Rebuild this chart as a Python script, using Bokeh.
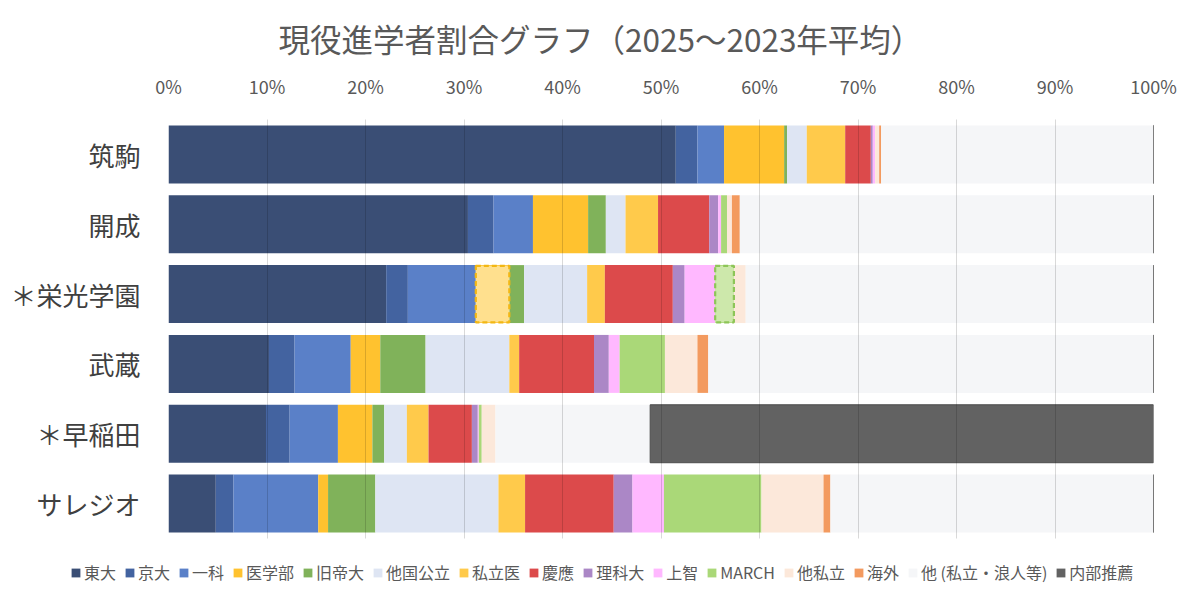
from bokeh.plotting import figure
from bokeh.models import (ColumnDataSource, FactorRange, Range1d, FixedTicker,
                          PrintfTickFormatter, Legend, LegendItem)
from bokeh.embed import file_html
from bokeh.resources import INLINE

FONT = "Noto Sans CJK JP"

# ---------------- data ----------------
schools = ["筑駒", "開成", "＊栄光学園", "武蔵", "＊早稲田", "サレジオ"]

series = ["東大", "京大", "一科", "医学部", "旧帝大", "他国公立", "私立医", "慶應",
          "理科大", "上智", "MARCH", "他私立", "海外", "他 (私立・浪人等)", "内部推薦"]

todai      = [51.5, 30.4, 22.1, 10.2, 9.9, 4.8]
kyodai     = [2.2, 2.6, 2.2, 2.6, 2.4, 1.8]
ikka       = [2.7, 4.0, 6.9, 5.7, 4.9, 8.6]
igakubu    = [6.1, 5.6, 3.4, 3.0, 3.5, 1.0]
kyuteidai  = [0.3, 1.8, 1.5, 4.6, 1.2, 4.8]
takokkou   = [2.0, 2.0, 6.4, 8.5, 2.3, 12.5]
shiritsui  = [3.9, 3.3, 1.8, 1.0, 2.2, 2.7]
keio       = [2.6, 5.2, 6.9, 7.6, 4.4, 9.0]
rikadai    = [0.2, 0.9, 1.2, 1.5, 0.6, 1.9]
sophia     = [0.25, 0.3, 3.1, 1.1, 0.1, 3.2]
march      = [0.0, 0.6, 1.9, 4.6, 0.3, 9.9]
tashiritsu = [0.4, 0.5, 1.2, 3.3, 1.4, 6.3]
kaigai     = [0.2, 0.8, 0.0, 1.1, 0.0, 0.7]
sonota     = [27.7, 42.0, 41.4, 45.2, 15.7, 32.8]
naibu      = [0.0, 0.0, 0.0, 0.0, 51.1, 0.0]

values = [todai, kyodai, ikka, igakubu, kyuteidai, takokkou, shiritsui, keio,
          rikadai, sophia, march, tashiritsu, kaigai, sonota, naibu]

# estimated (dashed) segments: (school, series)
estimated = [("＊栄光学園", "医学部"), ("＊栄光学園", "MARCH")]

x_ticks = list(range(0, 101, 10))

title_text = "現役進学者割合グラフ（2025～2023年平均）"

# ---------------- styles ----------------
colors = ["#3A4E75", "#4363A0", "#5A80C8", "#FFC22F", "#80B25A", "#DEE5F3",
          "#FFCA4B", "#DC4A4B", "#AB87C6", "#FFB8FF", "#AAD878", "#FCE8DA",
          "#F39A5F", "#F5F6F8", "#626262"]
line_colors = [None] * 14 + ["#4D4D4D"]
est_fill = {"医学部": "#FFE08E", "MARCH": "#CDE8AB"}
est_line = {"医学部": "#F2B714", "MARCH": "#8DC558"}

keys = ["s%d" % i for i in range(len(series))]
data = {"school": schools}
for k, v in zip(keys, values):
    data[k] = v
src = ColumnDataSource(data)

p = figure(width=1184, height=548, output_backend="svg", toolbar_location=None,
           y_range=FactorRange(factors=list(reversed(schools))),
           x_range=Range1d(0, 100), x_axis_location="above",
           min_border_left=168, min_border_right=31,
           min_border_top=119, min_border_bottom=10,
           outline_line_color=None, background_fill_color="white",
           border_fill_color="white")

BAR_H = 0.83
rends = p.hbar_stack(keys, y="school", height=BAR_H, source=src,
                     fill_color=colors, line_color=line_colors, line_width=1)

# dashed overlays for estimated segments
for sch, ser in estimated:
    i = schools.index(sch)
    j = series.index(ser)
    left = sum(values[k][i] for k in range(j))
    right = left + values[j][i]
    p.hbar(y=[sch], left=[left], right=[right], height=BAR_H - 0.02,
           fill_color=est_fill[ser], line_color=est_line[ser],
           line_width=2.2, line_dash="5 3")

# title
p.title.text = title_text
p.title.align = "left"
p.title.offset = 110
p.title.standoff = 17
p.title.text_font = FONT
p.title.text_font_size = "31.5px"
p.title.text_font_style = "normal"
p.title.text_color = "#595959"

# axes
p.xaxis.ticker = FixedTicker(ticks=x_ticks)
p.xaxis.formatter = PrintfTickFormatter(format="%d%%")
p.xaxis.axis_line_color = None
p.xaxis.major_tick_line_color = None
p.xaxis.minor_tick_line_color = None
p.xaxis.major_label_text_font = FONT
p.xaxis.major_label_text_font_size = "18px"
p.xaxis.major_label_text_color = "#595959"
p.xaxis.major_label_standoff = 15

p.yaxis.axis_line_color = None
p.yaxis.major_tick_line_color = None
p.yaxis.minor_tick_line_color = None
p.yaxis.major_label_text_font = FONT
p.yaxis.major_label_text_font_size = "26px"
p.yaxis.major_label_text_color = "#404040"
p.yaxis.major_label_standoff = 22

p.xgrid.ticker = FixedTicker(ticks=x_ticks)
p.xgrid.grid_line_color = "#000000"
p.xgrid.grid_line_alpha = 0.15
p.xgrid.level = "overlay"
p.ygrid.grid_line_color = None

# ---------------- legend row (separate strip) ----------------
# the same stacked data, drawn with zero height outside the visible range, feeds the legend
lg = figure(width=1184, height=38, output_backend="svg", toolbar_location=None,
            x_range=Range1d(200, 300), y_range=FactorRange(factors=schools),
            x_axis_type=None, y_axis_type=None,
            min_border_left=0, min_border_right=0,
            min_border_top=0, min_border_bottom=0,
            outline_line_color=None, border_fill_color="white",
            background_fill_color="white")
lg.xgrid.grid_line_color = None
lg.ygrid.grid_line_color = None

lg_rends = lg.hbar_stack(keys, y="school", height=0, source=src,
                         fill_color=colors, line_color=None)

items = [LegendItem(label=s, renderers=[r]) for s, r in zip(series, lg_rends)]
legend = Legend(items=items, orientation="horizontal", location=(70, 2),
                glyph_width=11, glyph_height=11, label_standoff=3, spacing=8,
                padding=0, margin=0, label_height=20,
                label_text_font=FONT, label_text_font_size="16px",
                label_text_color="#595959", border_line_color=None,
                background_fill_alpha=0)
lg.add_layout(legend, "center")

open("out.html", "w").write(file_html([p, lg], INLINE))
